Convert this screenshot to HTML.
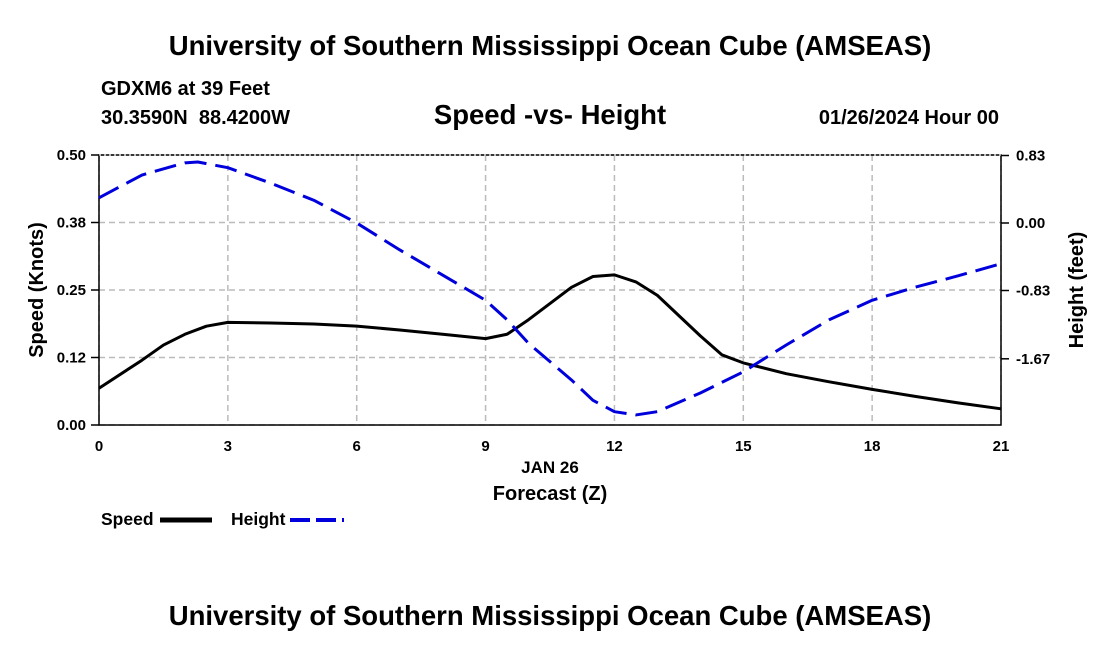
<!DOCTYPE html>
<html><head><meta charset="utf-8"><style>
body{margin:0;background:#fff;width:1100px;height:650px;overflow:hidden}
text{font-family:"Liberation Sans",Arial,sans-serif;font-weight:bold;fill:#000}
</style></head><body>
<svg id="chart" width="1100" height="650" xmlns="http://www.w3.org/2000/svg">
<text x="550" y="55" font-size="27.5" text-anchor="middle">University of Southern Mississippi Ocean Cube (AMSEAS)</text>
<text x="101" y="95" font-size="20">GDXM6 at 39 Feet</text>
<text x="101" y="124" font-size="20" xml:space="preserve">30.3590N  88.4200W</text>
<text x="550" y="124" font-size="27.5" text-anchor="middle">Speed -vs- Height</text>
<text x="999" y="124" font-size="20" text-anchor="end">01/26/2024 Hour 00</text>
<g id="grid"></g>
<g id="axes"></g>
<g id="series"></g>
<text transform="translate(43,290) rotate(-90)" font-size="20" text-anchor="middle">Speed (Knots)</text>
<text transform="translate(1083,290) rotate(-90)" font-size="20" text-anchor="middle">Height (feet)</text>
<text x="550" y="473" font-size="17" text-anchor="middle">JAN 26</text>
<text x="550" y="500" font-size="20" text-anchor="middle">Forecast (Z)</text>
<g><text x="101" y="525" font-size="17.5">Speed</text><line x1="160" y1="520" x2="212" y2="520" stroke="#000" stroke-width="5"/></g>
<g><text x="231" y="525" font-size="17.5">Height</text><line x1="290" y1="520" x2="344" y2="520" stroke="#0000dd" stroke-width="4" stroke-dasharray="20,6"/></g>
<text x="550" y="625" font-size="27.5" text-anchor="middle">University of Southern Mississippi Ocean Cube (AMSEAS)</text>
</svg>
<script>
const hours=[0,1,1.5,2,2.5,3,4,5,6,7,8,9,9.5,10,11,11.5,12,12.5,13,14,14.5,15,16,17,18,19,20,21];
const speed=[0.068,0.12,0.148,0.168,0.183,0.19,0.189,0.187,0.183,0.176,0.168,0.16,0.168,0.195,0.255,0.275,0.278,0.265,0.24,0.165,0.13,0.115,0.095,0.08,0.066,0.053,0.041,0.03];
const hHours=[0,1,2,2.3,3,4,5,6,7,8,9,9.5,10,11,11.5,12,12.5,13,14,15,16,17,18,19,20,21];
const height=[0.31,0.59,0.74,0.75,0.68,0.49,0.28,0.0,-0.33,-0.64,-0.95,-1.19,-1.48,-1.93,-2.18,-2.32,-2.36,-2.32,-2.09,-1.83,-1.5,-1.19,-0.95,-0.79,-0.65,-0.5];
const xTicks=[0,3,6,9,12,15,18,21];
const leftTicks=["0.00","0.12","0.25","0.38","0.50"];
const rightTicks=["0.83","0.00","-0.83","-1.67"];
const X0=99,X1=1001,Y0=425,Y1=155;
const xs=h=>X0+h/21*(X1-X0);
const ys=v=>Y0-v/0.5*(Y0-Y1);
const yh=h=>223-h/0.83*67.5;
const NS="http://www.w3.org/2000/svg";
function mk(tag,attrs,parent,txt){const e=document.createElementNS(NS,tag);for(const k in attrs)e.setAttribute(k,attrs[k]);if(txt!==undefined)e.textContent=txt;document.getElementById(parent).appendChild(e);return e;}
xTicks.forEach(t=>{
 const g=mk('line',{x1:xs(t),x2:xs(t),y1:Y1,y2:Y0,stroke:'#bbb','stroke-width':1.5,'stroke-dasharray':'6,4'},'grid');
 
 
 const l=mk('text',{x:xs(t),y:451,'font-size':15,'text-anchor':'middle'},'axes',String(t));
 
 
});
leftTicks.forEach((t,i)=>{
 const y=Y0-i*(Y0-Y1)/4;
 const g=mk('line',{x1:X0,x2:X1,y1:y,y2:y,stroke:'#bbb','stroke-width':1.5,'stroke-dasharray':'6,4'},'grid');
 
 
 const l=mk('text',{x:86,y:y+5,'font-size':15,'text-anchor':'end'},'axes',t);
 
 
 mk('line',{x1:X0-8,x2:X0,y1:y,y2:y,stroke:'#000','stroke-width':1.5},'axes');
});
rightTicks.forEach(t=>{
 const y=yh(parseFloat(t));
 const l=mk('text',{x:1016,y:y+5,'font-size':15},'axes',t);
 
 
 mk('line',{x1:X1,x2:X1+8,y1:y,y2:y,stroke:'#000','stroke-width':1.5},'axes');
});
const fr=mk('rect',{x:X0,y:Y1,width:X1-X0,height:Y0-Y1,fill:'none',stroke:'#000','stroke-width':1.5},'axes');


const topDots=mk('line',{x1:X0,x2:X1,y1:Y1,y2:Y1,stroke:'#fff','stroke-width':1,'stroke-dasharray':'2,3'},'axes');
const sp=mk('polyline',{points:hours.map((h,i)=>xs(h)+','+ys(speed[i])).join(' '),fill:'none',stroke:'#000','stroke-width':3,'stroke-linejoin':'round'},'series');


const ht=mk('polyline',{points:hHours.map((h,i)=>xs(h)+','+yh(height[i])).join(' '),fill:'none',stroke:'#0000dd','stroke-width':3,'stroke-dasharray':'22,9','stroke-linejoin':'round'},'series');


</script>
</body></html>
